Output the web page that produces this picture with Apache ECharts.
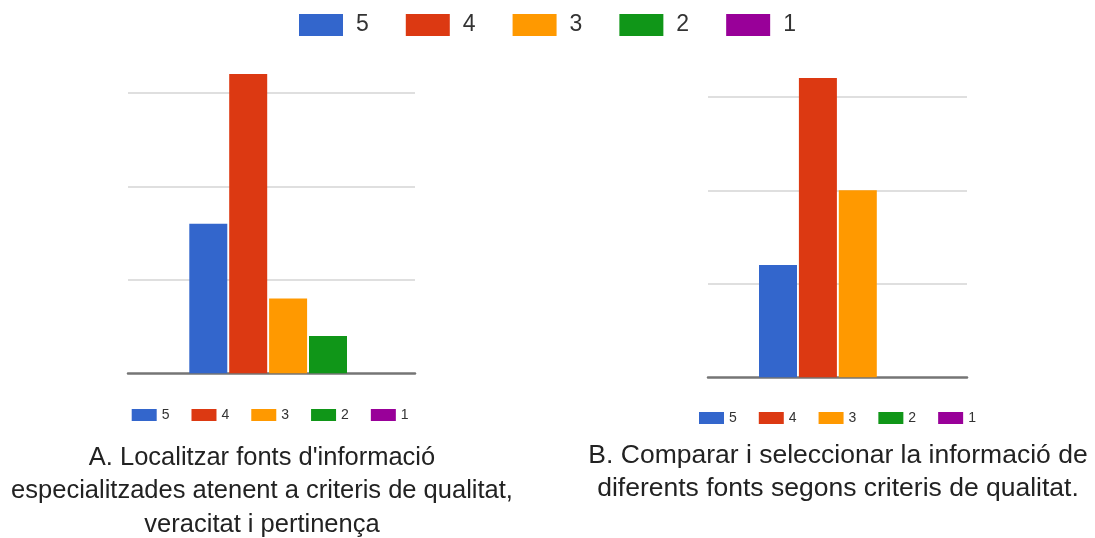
<!DOCTYPE html>
<html>
<head>
<meta charset="utf-8">
<script src="https://cdn.jsdelivr.net/npm/echarts@6/dist/echarts.min.js"></script>
<style>
html,body{margin:0;padding:0;background:#fff;}
#c{width:1095px;height:538px;}
</style>
</head>
<body>
<div id="c"></div>
<script>
var seriesNames = ['5', '4', '3', '2', '1'];
var seriesColors = ['#3366cc', '#dc3912', '#ff9900', '#109618', '#990099'];
var chartAValues = [4, 8, 2, 1, 0];
var chartBValues = [3, 8, 5, 0, 0];
var captionA = "A. Localitzar fonts d'informació\nespecialitzades atenent a criteris de qualitat,\nveracitat i pertinença";
var captionB = "B. Comparar i seleccionar la informació de\ndiferents fonts segons criteris de qualitat.";
var category = ['Q'];

var FONT = 'Liberation Sans, Arial, sans-serif';
var Y_MAX = 8.5;

var chart = echarts.init(document.getElementById('c'), null, {renderer: 'canvas'});

// grids: 0 = A gridlines, 1 = A bars, 2 = B gridlines, 3 = B bars
var grids = [
  {left: 128, width: 287, top: 55.4, height: 317.9},
  {left: 160, width: 256.2, top: 55.4, height: 317.9},
  {left: 708, width: 259, top: 59.4, height: 317.9},
  {left: 720, width: 275.6, top: 59.4, height: 317.9}
];

var xAxes = [], yAxes = [];
grids.forEach(function (g, i) {
  var isLines = (i % 2 === 0);
  xAxes.push({
    type: 'category', gridIndex: i, data: category,
    show: isLines,
    axisLabel: {show: false}, axisTick: {show: false},
    axisLine: {show: isLines, lineStyle: {color: '#757575', width: 2.5}},
    splitLine: {show: false}
  });
  yAxes.push({
    type: 'value', gridIndex: i, min: 0, max: Y_MAX, interval: 2.5,
    show: isLines,
    axisLabel: {show: false}, axisTick: {show: false}, axisLine: {show: false},
    splitLine: {show: isLines, showMinLine: false, showMaxLine: false,
      lineStyle: {color: '#d4d4d4', width: 1.5}}
  });
});

var series = [];
function addSeries(values, axisIdx) {
  seriesNames.forEach(function (n, k) {
    series.push({
      type: 'bar', name: n,
      xAxisIndex: axisIdx, yAxisIndex: axisIdx,
      data: [values[k]],
      barWidth: 38, barGap: '5%',
      itemStyle: {color: seriesColors[k]},
      emphasis: {disabled: true},
      animation: false
    });
  });
}
addSeries(chartAValues, 1);
addSeries(chartBValues, 3);

function legendAt(left, top, iw, ih, gap, fs, pad) {
  return {
    data: seriesNames, left: left, top: top, orient: 'horizontal',
    icon: 'rect', itemWidth: iw, itemHeight: ih, itemGap: gap, padding: 0,
    selectedMode: false,
    textStyle: {fontFamily: FONT, fontSize: fs, color: '#333', padding: [0, 0, 0, pad], lineHeight: ih}
  };
}

chart.setOption({
  backgroundColor: '#ffffff',
  animation: false,
  color: seriesColors,
  grid: grids,
  xAxis: xAxes,
  yAxis: yAxes,
  series: series,
  legend: [
    legendAt(299, 13.5, 44, 22, 37, 23, 8),
    legendAt(131.7, 408, 25, 12, 22, 14, 0),
    legendAt(699, 411, 25, 12, 22, 14, 0)
  ],
  title: [
    {text: captionA, left: 262, top: 441, textAlign: 'center', padding: 0,
      textStyle: {fontFamily: FONT, fontSize: 25.5, fontWeight: 'normal', color: '#222', lineHeight: 33.5}},
    {text: captionB, left: 838, top: 439, textAlign: 'center', padding: 0,
      textStyle: {fontFamily: FONT, fontSize: 26.5, fontWeight: 'normal', color: '#222', lineHeight: 33}}
  ]
});
</script>
</body>
</html>
